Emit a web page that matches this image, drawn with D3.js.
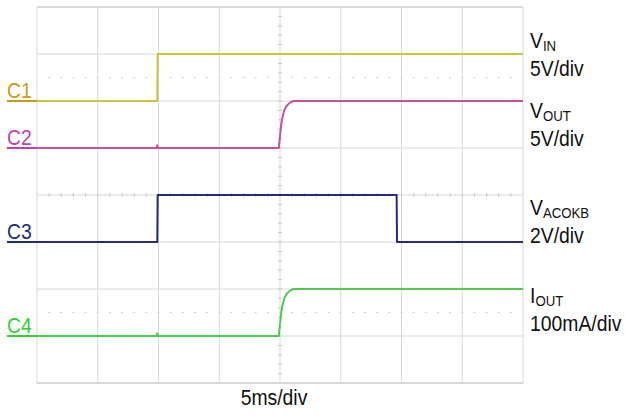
<!DOCTYPE html>
<html>
<head>
<meta charset="utf-8">
<script src="https://cdn.jsdelivr.net/npm/d3@7"></script>
<style>
  html, body { margin: 0; padding: 0; background: #fff; }
  svg { display: block; }
  text { font-family: "Liberation Sans", Arial, sans-serif; }
</style>
</head>
<body>
<svg id="chart" width="625" height="415"></svg>
<script>
// ---- data (time in ms, 5 ms/div; values in physical units) ----
const timeDivs = 8, ampDivs = 8, msPerDiv = 5;

const vin = [[0,0],[9.9,0],[9.93,5],[40,5]];                                   // V, 5V/div
const vout = [[0,0],[9.85,0],[9.9,0.3],[9.95,0],[19.9,0],[20.0,1.25],[20.1,2.5],[20.2,3.25],
              [20.35,4.0],[20.55,4.5],[20.8,4.8],[21.1,5],[40,5]];             // V, 5V/div
const vacokb = [[0,0],[9.9,0],[9.93,2],[29.6,2],[29.63,0],[40,0]];              // V, 2V/div
const iout = [[0,0],[9.85,0],[9.9,6],[9.95,0],[19.9,0],[20.0,25],[20.1,50],[20.2,65],
              [20.35,80],[20.55,90],[20.8,96],[21.1,100],[40,100]];             // mA, 100mA/div

const channels = [
  {id:"C1", data:vin,    perDiv:5,   offset:6, trace:"#c9c43e", label:"#c99a1c", name:"V", sub:"IN",    scale:"5V/div"},
  {id:"C2", data:vout,   perDiv:5,   offset:5, trace:"#c4509e", label:"#c23fae", name:"V", sub:"OUT",   scale:"5V/div"},
  {id:"C3", data:vacokb, perDiv:2,   offset:3, trace:"#27297e", label:"#1c2f72", name:"V", sub:"ACOKB", scale:"2V/div"},
  {id:"C4", data:iout,   perDiv:100, offset:1, trace:"#52c852", label:"#36cc36", name:"I", sub:"OUT",   scale:"100mA/div"}
];
const timeLabel = "5ms/div";

// ---- layout ----
const svg = d3.select("#chart");
const L = 37, R = 523, T = 7, B = 383;
const x = d3.scaleLinear().domain([0, timeDivs*msPerDiv]).range([L, R]);
const yDiv = d3.scaleLinear().domain([0, ampDivs]).range([B, T]);
const SX = 0.88, FS = 22;

const g = svg.append("g");

function label(px, py, anchor) {
  return g.append("g").attr("transform", `translate(${px},${py}) scale(${SX},1)`)
    .append("text").attr("x", 0).attr("y", 0).attr("font-size", FS)
    .attr("text-anchor", anchor || "start");
}

// grid
const gridColor = "#d8d8d8";
for (let i = 0; i <= timeDivs; i++) {
  g.append("line").attr("x1", x(i*msPerDiv)).attr("x2", x(i*msPerDiv))
    .attr("y1", T).attr("y2", B).attr("stroke", gridColor).attr("stroke-width", 1);
}
for (let j = 0; j <= ampDivs; j++) {
  g.append("line").attr("x1", L).attr("x2", R)
    .attr("y1", yDiv(j)).attr("y2", yDiv(j)).attr("stroke", gridColor)
    .attr("stroke-width", (j === 0 || j === ampDivs) ? 2 : 1);
}
// dotted lines
[6.5, 1.5].forEach(d => {
  for (let k = 1; k < timeDivs*5; k++) {
    const xx = x(k*msPerDiv/5);
    g.append("line").attr("x1", xx-1).attr("x2", xx+1).attr("y1", yDiv(d)).attr("y2", yDiv(d))
      .attr("stroke", "#d0d0d0").attr("stroke-width", 1);
  }
});
// center axis ticks
for (let k = 1; k < timeDivs*5; k++) {
  const xx = x(k*msPerDiv/5);
  g.append("line").attr("x1", xx).attr("x2", xx).attr("y1", yDiv(4)-2).attr("y2", yDiv(4)+2)
    .attr("stroke", "#c8c8c8").attr("stroke-width", 1);
}
for (let k = 1; k < ampDivs*5; k++) {
  const yy = yDiv(k/5);
  g.append("line").attr("x1", x(20)-2).attr("x2", x(20)+2).attr("y1", yy).attr("y2", yy)
    .attr("stroke", "#c8c8c8").attr("stroke-width", 1);
}

// traces
channels.forEach(c => {
  const line = d3.line().x(d => x(d[0])).y(d => yDiv(c.offset + d[1]/c.perDiv));
  g.append("path").datum(c.data).attr("d", line).attr("fill", "none")
    .attr("stroke", c.trace).attr("stroke-width", 2).attr("stroke-linejoin", "round");
});

// left labels
channels.forEach(c => {
  const y0 = yDiv(c.offset);
  label(7, y0 - 3).attr("fill", c.label).text(c.id);
  g.append("line").attr("x1", 7).attr("x2", L).attr("y1", y0).attr("y2", y0)
    .attr("stroke", c.label).attr("stroke-width", 2);
});

// right labels
const nameY = [48, 118, 215, 303];
channels.forEach((c, i) => {
  const t = label(530, nameY[i]).attr("fill", "#111");
  t.append("tspan").text(c.name);
  t.append("tspan").attr("font-size", 15).attr("dy", 3).text(c.sub);
  label(530, nameY[i] + 28).attr("fill", "#111").text(c.scale);
});

// time label
label(274, 405, "middle").attr("fill", "#111").text(timeLabel);
</script>
</body>
</html>
